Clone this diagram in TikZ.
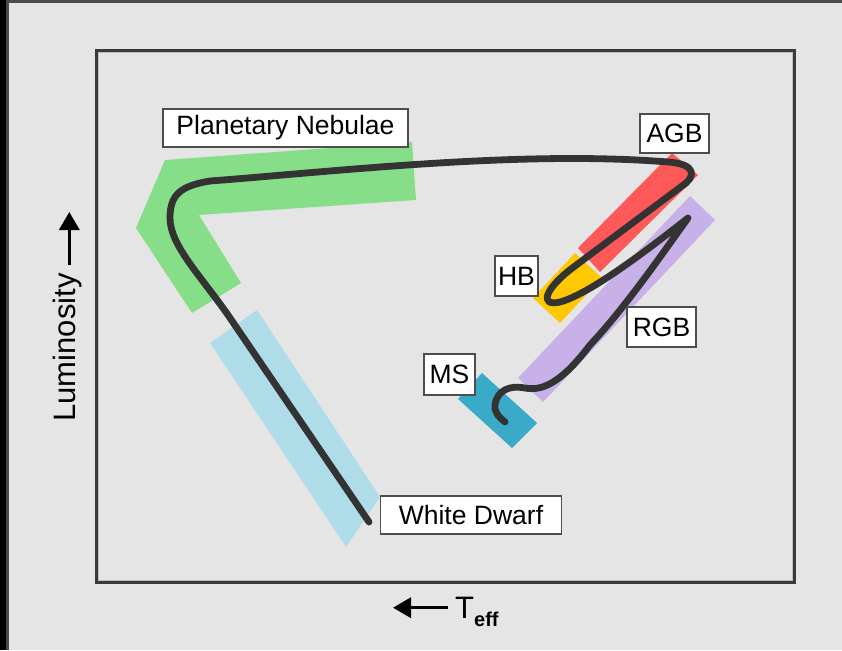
\documentclass[tikz,border=0pt]{standalone}
\usepackage{fontspec}
\setmainfont{Liberation Sans}
\usetikzlibrary{arrows.meta}

\definecolor{bg}{RGB}{229,229,229}
\definecolor{edgegrey}{RGB}{75,75,75}
\definecolor{framecol}{RGB}{58,58,58}
\definecolor{framehi}{RGB}{190,190,190}
\definecolor{labedge}{RGB}{77,77,77}
\definecolor{trackcol}{RGB}{51,51,51}
\definecolor{pncol}{RGB}{134,222,137}
\definecolor{wdcol}{RGB}{174,220,232}
\definecolor{agbcol}{RGB}{255,88,88}
\definecolor{hbcol}{RGB}{255,200,0}
\definecolor{rgbcol}{RGB}{200,176,232}
\definecolor{mscol}{RGB}{57,170,200}

\tikzset{
  lab/.style={draw=labedge, line width=1.8pt, fill=white, inner sep=0pt,
              font=\fontsize{26.5}{26.5}\selectfont},
  track/.style={draw=trackcol, line width=6.8pt, line cap=round, line join=round},
  axarrow/.style={draw=black, line width=3.5pt,
                  -{Triangle[length=18pt,width=20pt]}},
  axfont/.style={font=\fontsize{31}{31}\selectfont}
}

\begin{document}
\begin{tikzpicture}[x=1pt,y=-1pt]
\useasboundingbox (0,0) rectangle (842,650);

% page background and edge strips
\fill[bg] (0,0) rectangle (842,650);
\fill[black] (0,0) rectangle (6,650);
\fill[edgegrey] (6,0) rectangle (9,650);
\fill[edgegrey] (6,0) rectangle (842,3);

% plot frame
\draw[framecol, line width=3pt] (96.5,50.5) rectangle (794.5,582.5);
\draw[framehi, line width=1pt] (98.5,52.5) rectangle (792.5,580.5);

% evolutionary phase bands
\fill[pncol] (165,160) -- (412,142) -- (416,200) -- (199,215)
             -- (241,283) -- (192,313) -- (136,228) -- cycle;
\fill[wdcol] (210,343) -- (257,310) -- (380,497) -- (346,547) -- cycle;
\fill[agbcol] (672,153) -- (698,175) -- (600,272) -- (578,248) -- cycle;
\fill[hbcol] (533,298) -- (575,253) -- (602,278) -- (560,323) -- cycle;
\fill[rgbcol] (690,196) -- (715,220) -- (543,402) -- (518,378) -- cycle;
\fill[mscol] (482,373) -- (537,423) -- (512,448) -- (458,399) -- cycle;

% stellar evolution track
\draw[track] (369,522) -- (228,315)
  .. controls (200,275) and (170,245) .. (170,218)
  .. controls (170,195) and (180,186) .. (210,181)
  .. controls (330,172) and (520,150) .. (668,162)
  .. controls (697,164) and (696,177) .. (682,186)
  -- (575,266)
  .. controls (545,288) and (538,307) .. (560,302)
  .. controls (590,294) and (650,248) .. (688,218)
  .. controls (665,250) and (625,308) .. (590,345)
  .. controls (565,378) and (545,392) .. (525,388)
  .. controls (510,385) and (497,390) .. (495,405)
  .. controls (494,413) and (500,418) .. (505,422);

% phase labels
\node[lab, minimum width=245pt, minimum height=38pt] (pn) at (285.5,128) {Planetary Nebulae};
\node[lab, minimum width=69pt, minimum height=39pt] (agb) at (674.5,133.5) {AGB};
\node[lab, minimum width=43pt, minimum height=40pt] (hb) at (516.5,276) {HB};
\node[lab, minimum width=69pt, minimum height=40pt] (rgb) at (661.5,327) {RGB};
\node[lab, minimum width=51pt, minimum height=41pt] (ms) at (449.5,374.5) {MS};
\node[lab, minimum width=181pt, minimum height=38pt] (wd) at (471,515) {White Dwarf};

% axis labels
\node[axfont, rotate=90, anchor=base west, inner sep=0pt] (lum) at (75,421.7) {Luminosity};
\coordinate (lumtail) at (69.3,265);
\coordinate (lumtip) at (69.3,212);
\draw[axarrow] (lumtail) -- (lumtip);

\node[axfont, anchor=base west, inner sep=0pt] (teff) at (455,618.3)
  {T\raisebox{-8.4pt}{\fontsize{20}{20}\selectfont\bfseries eff}};
\coordinate (tefftail) at (448.3,607.7);
\coordinate (tefftip) at (393,607.7);
\draw[axarrow] (tefftail) -- (tefftip);
\end{tikzpicture}
\end{document}
